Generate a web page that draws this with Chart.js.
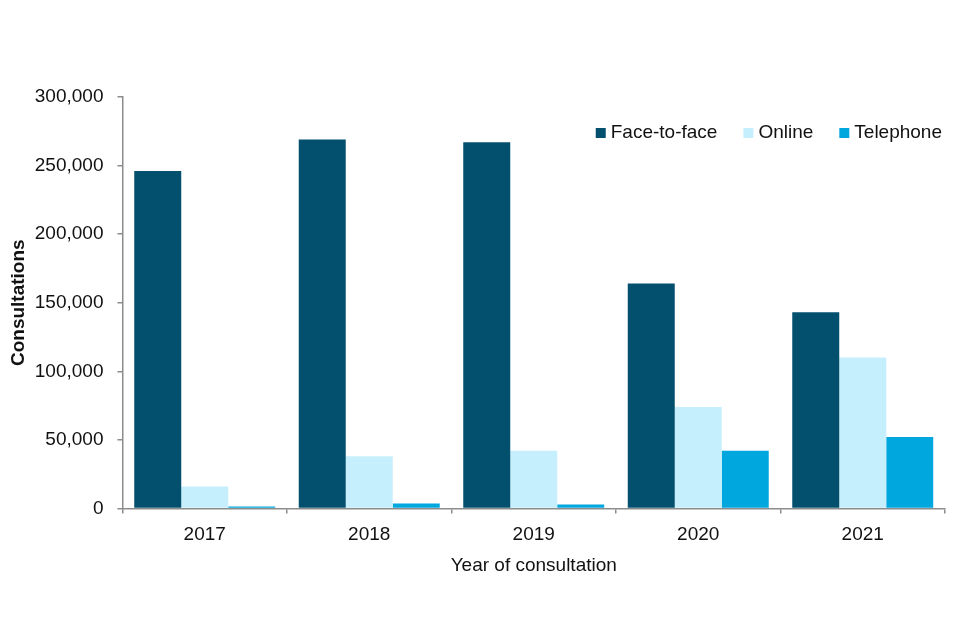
<!DOCTYPE html>
<html>
<head>
<meta charset="utf-8">
<script src="https://cdn.jsdelivr.net/npm/chart.js@4/dist/chart.umd.min.js"></script>
<style>
  html, body { margin: 0; padding: 0; background: #fff; }
  #wrap { width: 960px; height: 640px; }
</style>
</head>
<body>
<div id="wrap"><canvas id="consultChart" width="960" height="640"></canvas></div>
<script>
// Data
const years = ['2017', '2018', '2019', '2020', '2021'];
const faceToFace = [246000, 269000, 267000, 164000, 143000];
const online = [16000, 38000, 42000, 74000, 110000];
const telephone = [1300, 3600, 2800, 42000, 52000];

const axisGrey = '#8c8c8c';
const textColor = '#111';
const fontFamily = '"Liberation Sans", Arial, sans-serif';
const fontSize = 19;

// Legend sits inside the plot, top right, in one row
const insideLegend = {
    id: 'insideLegend',
    afterDraw(chart) {
        const c = chart.ctx;
        const area = chart.chartArea;
        const box = 10, gapText = 5, gapItem = 26;
        const y = area.top + 36;
        c.save();
        c.font = fontSize + 'px ' + fontFamily;
        c.textBaseline = 'middle';
        let x = area.right - 3;
        const sets = chart.data.datasets.slice().reverse();
        sets.forEach(ds => {
            const w = c.measureText(ds.label).width;
            x -= w;
            c.fillStyle = textColor;
            c.fillText(ds.label, x, y);
            x -= gapText + box;
            c.fillStyle = ds.backgroundColor;
            c.fillRect(x, y - box / 2, box, box);
            x -= gapItem;
        });
        c.restore();
    }
};

const ctx = document.getElementById('consultChart').getContext('2d');
new Chart(ctx, {
    type: 'bar',
    data: {
        labels: years,
        datasets: [{
            label: 'Face-to-face',
            data: faceToFace,
            backgroundColor: '#03506e'
        }, {
            label: 'Online',
            data: online,
            backgroundColor: '#c6effd'
        }, {
            label: 'Telephone',
            data: telephone,
            backgroundColor: '#00a6de'
        }]
    },
    options: {
        responsive: false,
        animation: false,
        layout: {
            padding: { top: 97, left: 3, right: 15, bottom: 59 }
        },
        datasets: {
            bar: {
                barPercentage: 1,
                categoryPercentage: 0.857
            }
        },
        plugins: {
            legend: { display: false },
            tooltip: { enabled: false }
        },
        scales: {
            x: {
                grid: {
                    display: true,
                    drawOnChartArea: false,
                    tickLength: 5,
                    color: axisGrey,
                    lineWidth: 1.5
                },
                border: { color: axisGrey, width: 1.5 },
                ticks: {
                    color: textColor,
                    padding: 10,
                    font: { family: fontFamily, size: fontSize }
                },
                title: {
                    display: true,
                    text: 'Year of consultation',
                    color: textColor,
                    padding: { top: -2, bottom: 4 },
                    font: { family: fontFamily, size: fontSize }
                }
            },
            y: {
                min: 0,
                max: 300000,
                ticks: {
                    stepSize: 50000,
                    color: textColor,
                    padding: 14,
                    font: { family: fontFamily, size: fontSize }
                },
                grid: {
                    display: true,
                    drawOnChartArea: false,
                    tickLength: 5,
                    color: axisGrey,
                    lineWidth: 1.5
                },
                border: { color: axisGrey, width: 1.5 },
                title: {
                    display: true,
                    text: 'Consultations',
                    color: textColor,
                    padding: { top: 4, bottom: -9 },
                    font: { family: fontFamily, size: fontSize, weight: 'bold' }
                }
            }
        }
    },
    plugins: [insideLegend]
});
</script>
</body>
</html>
